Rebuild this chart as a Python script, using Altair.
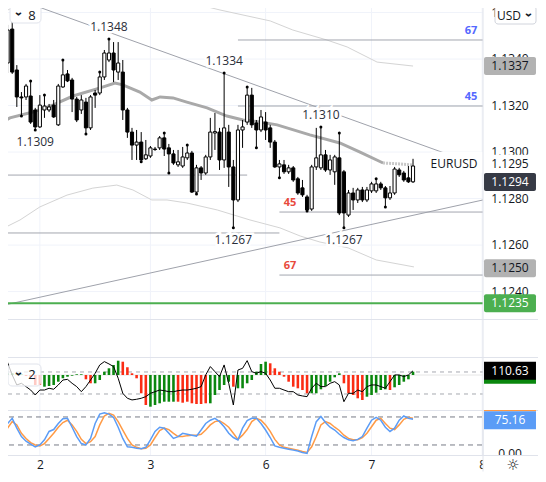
import altair as alt
import pandas as pd

# ---------------- values ----------------
opens = [1.13138, 1.13383, 1.13529, 1.13353, 1.13237, 1.13237, 1.13241, 1.13181, 1.13108, 1.13181,
         1.13181, 1.13202, 1.13117, 1.13280, 1.13336, 1.13310, 1.13228, 1.13181, 1.13215, 1.13104,
         1.13254, 1.13254, 1.13323, 1.13396, 1.13426, 1.13344, 1.13344, 1.13181, 1.13086, 1.13030,
         1.13043, 1.12971, 1.12983, 1.13013, 1.13018, 1.13061, 1.13018, 1.12992, 1.12945, 1.12940,
         1.12975, 1.12996, 1.12828, 1.12932, 1.12910, 1.12979, 1.13082, 1.13086, 1.12966, 1.13086,
         1.12936, 1.12794, 1.13095, 1.13129, 1.13245, 1.13125, 1.13095, 1.13129, 1.13104, 1.13043,
         1.12936, 1.12945, 1.12915, 1.12932, 1.12885, 1.12846, 1.12807, 1.12755, 1.12936, 1.12932,
         1.12988, 1.12923, 1.12915, 1.12975, 1.12915, 1.12729, 1.12824, 1.12794, 1.12837, 1.12794,
         1.12833, 1.12833, 1.12863, 1.12846, 1.12803, 1.12824, 1.12923, 1.12910, 1.12889, 1.12872]
highs = [1.13396, 1.13547, 1.13581, 1.13374, 1.13258, 1.13293, 1.13306, 1.13190, 1.13245, 1.13245,
         1.13207, 1.13224, 1.13293, 1.13396, 1.13353, 1.13319, 1.13237, 1.13245, 1.13233, 1.13245,
         1.13267, 1.13344, 1.13439, 1.13486, 1.13473, 1.13473, 1.13396, 1.13190, 1.13104, 1.13095,
         1.13086, 1.13052, 1.13026, 1.13022, 1.13069, 1.13082, 1.13035, 1.13009, 1.13009, 1.13022,
         1.13030, 1.13005, 1.12945, 1.12940, 1.12988, 1.13147, 1.13168, 1.13104, 1.13340, 1.13117,
         1.12966, 1.13117, 1.13138, 1.13280, 1.13276, 1.13138, 1.13181, 1.13172, 1.13117, 1.13052,
         1.12966, 1.12966, 1.12945, 1.12940, 1.12893, 1.12880, 1.12816, 1.12945, 1.13104, 1.13108,
         1.13009, 1.12988, 1.12988, 1.13082, 1.12923, 1.12837, 1.12846, 1.12846, 1.12850, 1.12850,
         1.12872, 1.12885, 1.12872, 1.12854, 1.12854, 1.12936, 1.12932, 1.12919, 1.12940, 1.12971]
lows = [1.13108, 1.13340, 1.13336, 1.13194, 1.13155, 1.13224, 1.13121, 1.13095, 1.13104, 1.13147,
        1.13172, 1.13147, 1.13112, 1.13276, 1.13301, 1.13172, 1.13129, 1.13164, 1.13078, 1.13095,
        1.13190, 1.13245, 1.13310, 1.13387, 1.13301, 1.13310, 1.13138, 1.13061, 1.12966, 1.12966,
        1.12958, 1.12966, 1.12975, 1.13005, 1.13009, 1.12983, 1.12910, 1.12945, 1.12936, 1.12932,
        1.12966, 1.12824, 1.12820, 1.12880, 1.12902, 1.12966, 1.13009, 1.12923, 1.12932, 1.12850,
        1.12674, 1.12785, 1.13018, 1.13117, 1.13104, 1.13018, 1.13086, 1.13052, 1.13018, 1.12932,
        1.12889, 1.12906, 1.12906, 1.12872, 1.12816, 1.12807, 1.12747, 1.12747, 1.12923, 1.12923,
        1.12915, 1.12902, 1.12859, 1.12729, 1.12674, 1.12721, 1.12751, 1.12781, 1.12785, 1.12785,
        1.12824, 1.12824, 1.12837, 1.12764, 1.12794, 1.12816, 1.12893, 1.12872, 1.12867, 1.12867]
closes = [1.13374, 1.13525, 1.13344, 1.13237, 1.13233, 1.13284, 1.13129, 1.13108, 1.13202, 1.13198,
          1.13194, 1.13151, 1.13284, 1.13332, 1.13306, 1.13228, 1.13138, 1.13224, 1.13104, 1.13237,
          1.13245, 1.13323, 1.13426, 1.13426, 1.13353, 1.13383, 1.13181, 1.13086, 1.13030, 1.13043,
          1.12966, 1.12988, 1.13018, 1.13011, 1.13061, 1.13013, 1.12992, 1.12953, 1.12958, 1.12979,
          1.12996, 1.12828, 1.12932, 1.12910, 1.12979, 1.13086, 1.13088, 1.12966, 1.13104, 1.12936,
          1.12794, 1.13095, 1.13108, 1.13245, 1.13117, 1.13095, 1.13151, 1.13095, 1.13043, 1.12936,
          1.12949, 1.12915, 1.12932, 1.12880, 1.12824, 1.12816, 1.12751, 1.12936, 1.12975, 1.12988,
          1.12923, 1.12966, 1.12979, 1.12738, 1.12738, 1.12824, 1.12794, 1.12837, 1.12794, 1.12837,
          1.12863, 1.12863, 1.12846, 1.12803, 1.12824, 1.12927, 1.12902, 1.12880, 1.12872, 1.12940]

pivot_idx = [0, 2, 4, 6, 7, 9, 13, 18, 21, 23, 30, 35, 36, 40, 42, 48, 50, 53, 55, 60, 66, 69, 73, 74, 81, 83]
pivot_kind = ["L", "H", "L", "H", "L", "H", "H", "L", "H", "H", "L", "H", "L", "H", "L", "H", "L", "H",
              "L", "L", "L", "H", "H", "L", "H", "L"]

swing_idx = [23, 7, 48, 69, 50, 74]
swing_kind = ["H", "L", "H", "H", "L", "L"]
swing_text = ["1.1348", "1.1309", "1.1334", "1.1310", "1.1267", "1.1267"]

ma_idx = [-0.65, 1.5, 6.5, 10.9, 15.2, 21.1, 24.3, 26.0, 29.7, 32.3, 34.1, 36.9, 39.9, 44.3, 48.6,
          52.1, 55.8, 59.5, 66.6, 73.1, 77.5, 82.5, 86.2, 89.0]
ma_val = [1.13121, 1.13147, 1.13172, 1.13203, 1.13241, 1.13276, 1.13297, 1.13289, 1.13258, 1.13224,
          1.13237, 1.13233, 1.13215, 1.13190, 1.13155, 1.13138, 1.13129, 1.13117, 1.13074, 1.13039,
          1.13000, 1.12953, 1.12949, 1.12944]
ub_idx = [-0.65, 3.7, 10.2, 21.1, 31.9, 38.4, 47.1, 58.0, 62.9, 70.3, 74.7, 81.2, 89.0]
ub_val = [1.13598, 1.13632, 1.13688, 1.13740, 1.13697, 1.13654, 1.13611, 1.13564, 1.13525, 1.13482,
          1.13452, 1.13387, 1.13370]
lb_idx = [-0.65, 3.7, 8.0, 13.9, 19.5, 24.7, 28.2, 32.3, 35.6, 39.9, 46.5, 53.6, 60.1, 64.5, 68.8,
          74.9, 81.0, 89.2]
lb_val = [1.12665, 1.12708, 1.12764, 1.12815, 1.12845, 1.12858, 1.12837, 1.12794, 1.12794, 1.12781,
          1.12751, 1.12708, 1.12674, 1.12639, 1.12613, 1.12588, 1.12536, 1.12506]

level_price = [1.13482, 1.13198, 1.12742, 1.12471, 1.12901, 1.12652]
level_from = [51, 51, 60, 60, -0.65, -0.65]
level_to = [104.19, 104.19, 104.19, 104.19, 53, 60]
level_tag = ["67", "45", "45", "67"]

trend_from_idx = [-0.65, -0.65]
trend_to_idx = [104.19, 104.19]
trend_from_val = [1.13684, 1.12338]
trend_to_val = [1.12936, 1.12794]

support_level = 1.1235
compare_price = 1.1295
last_price = 1.1294
band_upper_last = 1.1337
band_lower_last = 1.1250

price_ticks = [1.124, 1.126, 1.128, 1.130, 1.132, 1.134, 1.136]
day_ticks = [8, 32, 57, 80, 104]
day_labels = ["2", "3", "6", "7", "8"]

hist = [-8.3, 1.7, 1.7, 0.7, 0.7, -1.0, -2.0, -10.0, -10.0, -11.7,
        -11.0, -10.0, -6.7, -3.3, -1.7, -0.7, 0.7, 0.7, -4.3, -8.3,
        -8.3, -5.0, 3.3, 6.7, 10.0, 14.3, 13.3, 7.7, 1.7, -3.3,
        -18.3, -30.0, -31.7, -30.0, -28.3, -26.7, -26.7, -26.7, -26.7, -27.7,
        -26.7, -28.3, -29.0, -29.0, -28.3, -28.3, -20.0, -15.0, -10.0, -6.7,
        -11.7, -13.3, -13.3, -8.3, -5.0, 3.3, 11.0, 13.3, 11.7, 6.7,
        3.3, -1.7, -6.7, -11.7, -13.3, -15.0, -18.3, -18.3, -18.3, -14.3,
        -11.0, -6.7, -2.3, 1.7, -8.3, -18.3, -20.0, -23.3, -25.0, -21.7,
        -20.0, -17.7, -15.0, -14.3, -15.0, -12.3, -10.0, -6.7, -4.3, 3.3]
hist_dir = list("rggggrrrrg" "ggggggggrr" "ggggggrrrr" "rrggggggrr" "rrrrrggggg"
                "rgggggggrr" "rrrrrrrggg" "ggggrrrrrg" "ggggrggggg")
cci = [103, 185, 73, -18, -3, -33, -64, -109, -64, -64,
       -48, -57, -18, 27, 33, -3, -33, -79, -33, 27,
       88, 164, 194, 173, 149, 43, -94, -139, -154, -148,
       -139, -124, -94, -79, -64, -70, -79, -79, -70, -64,
       -64, -57, -48, -33, 73, 149, 103, 58, 164, -3,
       -200, 118, 133, 203, 103, 88, 103, 88, 27, -48,
       -48, -64, -79, -79, -109, -118, -124, -48, -3, -33,
       -33, -3, 12, -18, -170, -94, -94, -64, -79, -33,
       -18, -18, -33, -48, 12, 73, 73, 58, 73, 110.63]
stoch_k = [45, 66, 77, 56, 38, 28, 22, 16, 20, 31,
           49, 53, 66, 76, 77, 58, 38, 23, 20, 34,
           66, 86, 89, 86, 79, 58, 34, 16, 15, 13,
           12, 15, 31, 49, 58, 56, 45, 34, 38, 45,
           43, 41, 39, 52, 66, 73, 77, 70, 59, 45,
           36, 31, 56, 72, 77, 77, 66, 52, 36, 18,
           15, 13, 11, 9, 7, 4, 2, 38, 70, 81,
           68, 58, 52, 43, 36, 31, 29, 32, 38, 56,
           73, 79, 73, 58, 49, 56, 73, 82, 77, 75.16]
stoch_d = [34, 56, 70, 63, 45, 34, 25, 20, 18, 23,
           34, 45, 58, 68, 73, 63, 49, 32, 23, 27,
           38, 63, 82, 88, 84, 70, 52, 34, 20, 15,
           12, 13, 20, 36, 51, 56, 53, 45, 38, 38,
           40, 41, 41, 43, 52, 63, 70, 72, 66, 58,
           45, 32, 41, 53, 70, 77, 73, 63, 49, 32,
           20, 15, 13, 11, 9, 6, 4, 16, 38, 63,
           70, 66, 58, 51, 41, 34, 31, 31, 36, 45,
           59, 73, 77, 66, 56, 53, 63, 75, 79, 77]

# ---------------- style / layout ----------------
FONT = "Open Sans"
INK = "#131722"
GRID = "#f0f3fa"
SEP = "#e0e3eb"
LINE_GREY = "#a3a6af"
GREEN_H = "#0a870e"
RED_H = "#fb2c14"
BLUE = "#5b9cf6"
ORANGE = "#ff9a45"
TAG_BLUE = "#5468ff"
TAG_RED = "#e84a3c"

W = 538             # whole chart width (page margin of 8px is taken back with padding)
TIME_H = 16         # height of the time-scale strip below the last pane
PX = 4.607          # pixels per candle
N = len(closes)
idx = list(range(N))
X_MIN = -0.6512
X_MAX = X_MIN + W / PX
AXIS_X = 104.19
BOX_X0, BOX_X1, LABEL_X = 104.41, 115.69, 110.05

xs = alt.Scale(domain=[X_MIN, X_MAX], nice=False, zero=False)


def X(f, axis=None):
    return alt.X(f, type="quantitative", scale=xs, axis=axis)


def one(**kw):
    return pd.DataFrame({k: [v] for k, v in kw.items()})


days = pd.DataFrame({"i": day_ticks})
ui = one(t="USD")


def vgrid():
    return alt.Chart(days).mark_rule(color=GRID, strokeWidth=1, clip=True).encode(x=X("i"))


def separator():
    return alt.Chart(one(x=AXIS_X)).mark_rule(color=SEP, strokeWidth=1, clip=True).encode(x=X("x"))


def hsep(y):
    return alt.Chart(ui).mark_rule(color=SEP, strokeWidth=1, clip=True).encode(
        x=alt.value(0), x2=alt.value(W), y=alt.value(y))


# ================= main price pane =================
ys = alt.Scale(domain=[1.12282, 1.13654], nice=False, zero=False)


def Y(f):
    return alt.Y(f, type="quantitative", scale=ys, axis=None)


cd = pd.DataFrame({"i": idx, "o": opens, "h": highs, "l": lows, "c": closes})
cd["x0"] = cd["i"] - 0.34
cd["x1"] = cd["i"] + 0.34

hgrid = alt.Chart(pd.DataFrame({"p": price_ticks, "x0": X_MIN, "x1": AXIS_X})).mark_rule(
    color=GRID, clip=True).encode(x=X("x0"), x2="x1", y=Y("p"))

band_u = alt.Chart(pd.DataFrame({"i": ub_idx, "v": ub_val})).mark_line(
    color="#d4d4d4", strokeWidth=1, clip=True).encode(x=X("i"), y=Y("v"))
band_l = alt.Chart(pd.DataFrame({"i": lb_idx, "v": lb_val})).mark_line(
    color="#d4d4d4", strokeWidth=1, clip=True).encode(x=X("i"), y=Y("v"))
ma = pd.DataFrame({"i": ma_idx, "v": ma_val})
ma_line = alt.Chart(ma[ma["i"] <= 82.5]).mark_line(
    color="#a9a9a9", strokeWidth=3, clip=True).encode(x=X("i"), y=Y("v"))
ma_tail = alt.Chart(ma[ma["i"] >= 82.5]).mark_line(
    color="#c8c8c8", strokeWidth=3, strokeDash=[2, 1], clip=True).encode(x=X("i"), y=Y("v"))

levels = alt.Chart(pd.DataFrame({"p": level_price, "x0": level_from, "x1": level_to})).mark_rule(
    color=LINE_GREY, strokeWidth=1, clip=True).encode(x=X("x0"), x2="x1", y=Y("p"))
trends = alt.Chart(pd.DataFrame({"x0": trend_from_idx, "x1": trend_to_idx,
                                 "p0": trend_from_val, "p1": trend_to_val})).mark_rule(
    color="#9fa2ab", strokeWidth=1, clip=True).encode(x=X("x0"), x2="x1", y=Y("p0"), y2="p1")
support = alt.Chart(one(p=support_level, x0=X_MIN, x1=AXIS_X)).mark_rule(
    color="#4caf50", strokeWidth=2, clip=True).encode(x=X("x0"), x2="x1", y=Y("p"))

wicks = alt.Chart(cd).mark_rule(color="black", strokeWidth=1, clip=True).encode(
    x=X("i"), y=Y("l"), y2="h")
bodies = alt.Chart(cd).mark_rect(stroke="black", strokeWidth=1, clip=True).encode(
    x=X("x0"), x2="x1", y=Y("o"), y2="c",
    fill=alt.condition("datum.c >= datum.o", alt.value("white"), alt.value("black")))

pv = pd.DataFrame({"i": pivot_idx,
                   "p": [highs[i] if k == "H" else lows[i] for i, k in zip(pivot_idx, pivot_kind)]})
pivots = alt.Chart(pv).mark_circle(color="black", size=9, opacity=1, clip=True).encode(
    x=X("i"), y=Y("p"))

sw = pd.DataFrame({"i": swing_idx, "kind": swing_kind, "t": swing_text,
                   "p": [highs[i] if k == "H" else lows[i] for i, k in zip(swing_idx, swing_kind)]})


def swing_layer(kind, dy, halo):
    props = dict(font=FONT, fontSize=12, dy=dy, align="center", baseline="middle", clip=True)
    if halo:
        m = alt.Chart(sw).mark_text(color="white", stroke="white", strokeWidth=5, **props)
    else:
        m = alt.Chart(sw).mark_text(color="#2a2e39", **props)
    return m.transform_filter(f"datum.kind == '{kind}'").encode(x=X("i"), y=Y("p"), text="t")


tags = pd.DataFrame({"p": level_price[:4], "t": level_tag,
                     "x": [101.6, 101.6, 62.3, 62.3],
                     "col": [TAG_BLUE, TAG_BLUE, TAG_RED, TAG_RED]})
tag_text = alt.Chart(tags).mark_text(font=FONT, fontSize=11, fontWeight="bold", dy=-9,
                                     align="center", baseline="middle", clip=True).encode(
    x=X("x"), y=Y("p"), text="t", color=alt.Color("col", scale=None))

ed = one(p=compare_price, x0=93.0, x1=AXIS_X, lx=97.9, t="EURUSD")
eur_box = alt.Chart(ed).mark_rect(color="white", yOffset=-12, y2Offset=9, clip=True).encode(
    x=X("x0"), x2="x1", y=Y("p"), y2="p")
eur_text = alt.Chart(ed).mark_text(font=FONT, fontSize=12, color=INK, align="center",
                                   baseline="middle", clip=True).encode(x=X("lx"), y=Y("p"), text="t")

tick_df = pd.DataFrame({"p": price_ticks, "lx": LABEL_X, "t": [f"{v:.4f}" for v in price_ticks]})
tick_text = alt.Chart(tick_df).mark_text(font=FONT, fontSize=12, color=INK, align="center",
                                         baseline="middle", clip=True).encode(
    x=X("lx"), y=Y("p"), text="t")

vt = pd.DataFrame({"p": [band_upper_last, compare_price, band_lower_last, support_level],
                   "t": ["1.1337", "1.1295", "1.1250", "1.1235"],
                   "bg": ["#b2b2b2", "white", "#b2b2b2", "#4caf50"],
                   "fg": [INK, INK, INK, "white"],
                   "x0": BOX_X0, "x1": BOX_X1, "lx": LABEL_X})
vt_box = alt.Chart(vt).mark_rect(yOffset=-9, y2Offset=9, cornerRadius=2, clip=True).encode(
    x=X("x0"), x2="x1", y=Y("p"), y2="p", fill=alt.Color("bg", scale=None))
vt_text = alt.Chart(vt).mark_text(font=FONT, fontSize=12, align="center", baseline="middle",
                                  clip=True).encode(
    x=X("lx"), y=Y("p"), text="t", color=alt.Color("fg", scale=None))
lp = one(p=last_price, t="1.1294", x0=BOX_X0, x1=BOX_X1, lx=LABEL_X)
lp_box = alt.Chart(lp).mark_rect(yOffset=7, y2Offset=25, cornerRadius=2, color="#363a45",
                                 clip=True).encode(x=X("x0"), x2="x1", y=Y("p"), y2="p")
lp_text = alt.Chart(lp).mark_text(font=FONT, fontSize=12, color="white", dy=16, align="center",
                                  baseline="middle", clip=True).encode(x=X("lx"), y=Y("p"), text="t")

usd_box = alt.Chart(ui).mark_rect(fill="white", stroke="#d1d4dc", strokeWidth=1,
                                  cornerRadius=3, clip=True).encode(
    x=alt.value(495), x2=alt.value(536), y=alt.value(6), y2=alt.value(24))
usd_text = alt.Chart(ui).mark_text(font=FONT, fontSize=12, color=INK, align="center",
                                   baseline="middle", clip=True).encode(
    x=alt.value(509), y=alt.value(15.5), text="t")
usd_chev = alt.Chart(ui).mark_text(font=FONT, fontSize=12, fontWeight="bold", color=INK, angle=90,
                                   align="center", baseline="middle", text="›", clip=True).encode(
    x=alt.value(529), y=alt.value(15))
pane_box = alt.Chart(ui).mark_rect(fill="white", stroke=SEP, strokeWidth=1, cornerRadius=4,
                                   clip=True).encode(
    x=alt.value(10), x2=alt.value(41), y=alt.value(5), y2=alt.value(23))
pane_chev = alt.Chart(ui).mark_text(font=FONT, fontSize=12, fontWeight="bold", color=INK, angle=90,
                                    align="center", baseline="middle", text="›", clip=True).encode(
    x=alt.value(19), y=alt.value(14))
pane_num = alt.Chart(ui).mark_text(font=FONT, fontSize=13, color=INK, align="center",
                                   baseline="middle", text="8", clip=True).encode(
    x=alt.value(32), y=alt.value(15.5))

main = alt.layer(
    vgrid(), hgrid, band_u, band_l, ma_line, ma_tail, levels, trends, support,
    wicks, bodies, pivots,
    swing_layer("H", -12, True), swing_layer("L", 12, True),
    swing_layer("H", -12, False), swing_layer("L", 12, False),
    tag_text, eur_box, eur_text, separator(), tick_text, vt_box, vt_text, lp_box, lp_text,
    usd_box, usd_text, usd_chev, pane_box, pane_chev, pane_num
).properties(width=W, height=319)

# ================= empty pane =================
empty = alt.layer(vgrid(), separator(), hsep(0.5)).properties(width=W, height=38)

# ================= histogram + CCI pane =================
ys_cci = alt.Scale(domain=[-245.5, 236], nice=False, zero=False)
ys_hist = alt.Scale(domain=[-35, 18], nice=False, zero=False)
md = pd.DataFrame({"i": idx, "hist": hist, "dir": hist_dir, "cci": cci})
md["x0"] = md["i"] - 0.28
md["x1"] = md["i"] + 0.28
md["zero"] = 0.0

hzero = alt.Chart(one(v=0.0, x0=X_MIN, x1=AXIS_X)).mark_rule(color="#e6e6e6", clip=True).encode(
    x=X("x0"), x2="x1", y=alt.Y("v", scale=ys_hist, axis=None))
cci_dash = alt.Chart(pd.DataFrame({"v": [100, -100], "x0": X_MIN, "x1": AXIS_X})).mark_rule(
    color="#a6a9b0", strokeDash=[4, 4], clip=True).encode(
    x=X("x0"), x2="x1", y=alt.Y("v", scale=ys_cci, axis=None))
bars = alt.Chart(md).mark_rect(clip=True).encode(
    x=X("x0"), x2="x1", y=alt.Y("hist", scale=ys_hist, axis=None), y2="zero",
    color=alt.condition("datum.dir == 'g'", alt.value(GREEN_H), alt.value(RED_H)))
cci_line = alt.Chart(md).mark_line(color="black", strokeWidth=1, clip=True).encode(
    x=X("i"), y=alt.Y("cci", scale=ys_cci, axis=None))
box2 = alt.Chart(ui).mark_rect(fill="white", fillOpacity=0.75, stroke=SEP, strokeWidth=1,
                               cornerRadius=4, clip=True).encode(
    x=alt.value(8), x2=alt.value(41), y=alt.value(7), y2=alt.value(29))
chev2 = alt.Chart(ui).mark_text(font=FONT, fontSize=12, fontWeight="bold", color=INK, angle=90,
                                align="center", baseline="middle", text="›", clip=True).encode(
    x=alt.value(19), y=alt.value(17))
num2 = alt.Chart(ui).mark_text(font=FONT, fontSize=13, color=INK, align="center",
                               baseline="middle", text="2", clip=True).encode(
    x=alt.value(32), y=alt.value(18))
cl = one(v=cci[-1], t=f"{cci[-1]:.2f}", x0=BOX_X0, x1=BOX_X1, lx=LABEL_X)
cci_strip = alt.Chart(cl).mark_rect(color=GREEN_H, yOffset=8, y2Offset=13, clip=True).encode(
    x=X("x0"), x2="x1", y=alt.Y("v", scale=ys_cci, axis=None), y2="v")
cci_box = alt.Chart(cl).mark_rect(color="black", yOffset=-9, y2Offset=9, clip=True).encode(
    x=X("x0"), x2="x1", y=alt.Y("v", scale=ys_cci, axis=None), y2="v")
cci_text = alt.Chart(cl).mark_text(font=FONT, fontSize=12, color="white", align="center",
                                   baseline="middle", clip=True).encode(
    x=X("lx"), y=alt.Y("v", scale=ys_cci, axis=None), text="t")

macd = alt.layer(
    vgrid(), hzero, cci_dash, bars, cci_line, box2, chev2, num2, separator(), hsep(0.5),
    cci_strip, cci_box, cci_text
).resolve_scale(y="independent").properties(width=W, height=53)

# ================= stochastic pane + time scale =================
ys_st = alt.Scale(domain=[-3.6, 94.9], nice=False, zero=False)
sd = pd.DataFrame({"i": idx, "k": stoch_k, "d": stoch_d})

label_expr = "''"
for t, lab in reversed(list(zip(day_ticks, day_labels))):
    label_expr = f"datum.value == {t} ? '{lab}' : ({label_expr})"
time_axis = alt.Axis(values=day_ticks, labelExpr=label_expr, domain=False, ticks=False, grid=False,
                     labelPadding=3, labelFontSize=12, labelFont=FONT, labelColor=INK,
                     minExtent=TIME_H, maxExtent=TIME_H, labelFlush=False, labelOverlap=False,
                     title=None)

st_dash = alt.Chart(pd.DataFrame({"v": [80, 20], "x0": X_MIN, "x1": AXIS_X})).mark_rule(
    color="#787b86", strokeDash=[5, 4], clip=True).encode(
    x=X("x0"), x2="x1", y=alt.Y("v", scale=ys_st, axis=None))
d_line = alt.Chart(sd).mark_line(color=ORANGE, strokeWidth=1.5, clip=True).encode(
    x=X("i"), y=alt.Y("d", scale=ys_st, axis=None))
k_line = alt.Chart(sd).mark_line(color=BLUE, strokeWidth=1.5, clip=True).encode(
    x=X("i", axis=time_axis), y=alt.Y("k", scale=ys_st, axis=None))
zero_lab = alt.Chart(one(v=0.0, lx=LABEL_X, t="0.00")).mark_text(
    font=FONT, fontSize=12, color=INK, align="center", baseline="middle", clip=True).encode(
    x=X("lx"), y=alt.Y("v", scale=ys_st, axis=None), text="t")
sl = one(v=stoch_k[-1], t=f"{stoch_k[-1]:.2f}", x0=BOX_X0, x1=BOX_X1, lx=LABEL_X)
st_strip = alt.Chart(sl).mark_rect(color=ORANGE, yOffset=-11, y2Offset=-8, clip=True).encode(
    x=X("x0"), x2="x1", y=alt.Y("v", scale=ys_st, axis=None), y2="v")
st_box = alt.Chart(sl).mark_rect(color=BLUE, yOffset=-8, y2Offset=10, clip=True).encode(
    x=X("x0"), x2="x1", y=alt.Y("v", scale=ys_st, axis=None), y2="v")
st_text = alt.Chart(sl).mark_text(font=FONT, fontSize=12, color="white", dy=1, align="center",
                                  baseline="middle", clip=True).encode(
    x=X("lx"), y=alt.Y("v", scale=ys_st, axis=None), text="t")
cover = alt.Chart(one(x0=AXIS_X, x1=X_MAX - 0.3)).mark_rect(color="white").encode(
    x=X("x0"), x2="x1", y=alt.value(47), y2=alt.value(46 + TIME_H - 0.5))
sep_long = alt.Chart(one(x=AXIS_X)).mark_rule(color=SEP, strokeWidth=1).encode(
    x=X("x"), y=alt.value(0), y2=alt.value(46 + TIME_H - 0.5))
gear = alt.Chart(one(x=110.7, t="☼")).mark_text(font="DejaVu Sans", fontSize=15, color=INK,
                                                align="center", baseline="middle").encode(
    x=X("x"), y=alt.value(46 + TIME_H / 2 + 1), text="t")

stoch = alt.layer(
    vgrid(), st_dash, d_line, k_line, zero_lab, separator(), hsep(0.5), hsep(45.5),
    st_strip, st_box, st_text, cover, sep_long, gear
).resolve_axis(x="independent").properties(width=W, height=46)

chart = alt.vconcat(main, empty, macd, stoch, spacing=0, bounds="flush").properties(
    padding={"left": -8, "top": -8, "right": 0, "bottom": 0}, background="white"
).configure_view(strokeWidth=0)

chart.save("out.html", embed_options={"renderer": "svg", "actions": False})
